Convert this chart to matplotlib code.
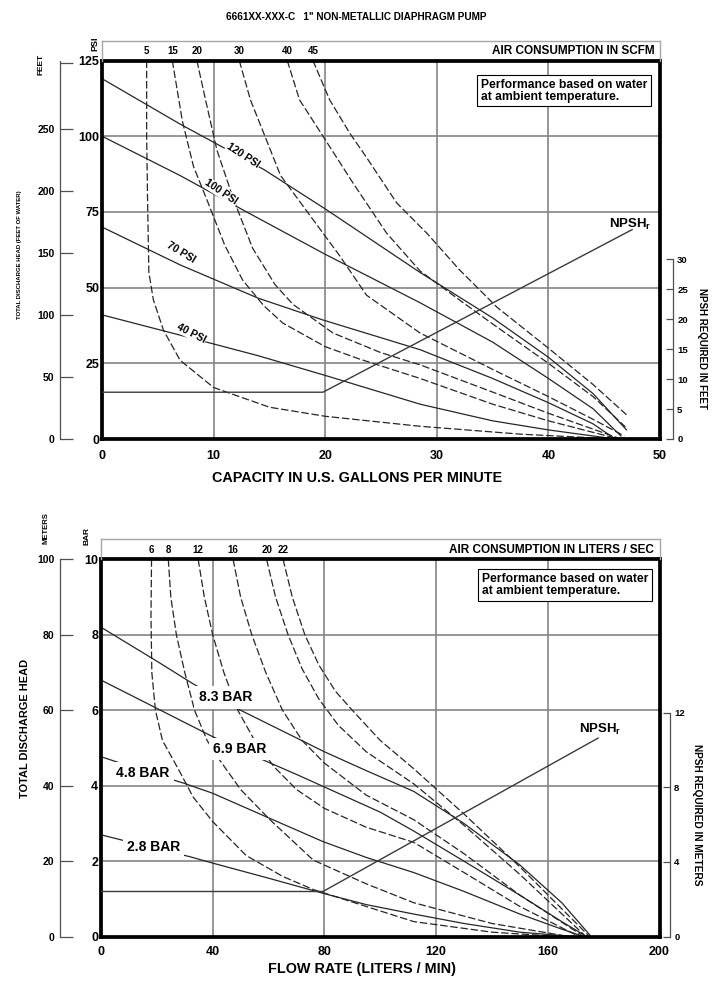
import matplotlib
matplotlib.use("Agg")
import matplotlib.pyplot as plt
from matplotlib import font_manager

_names = {f.name for f in font_manager.fontManager.ttflist}
FONT = "Liberation Sans Narrow" if "Liberation Sans Narrow" in _names else "Liberation Sans"
plt.rcParams["font.family"] = [FONT, "DejaVu Sans"]
plt.rcParams["font.weight"] = "bold"

# ------------------------------------------------------------------ data
TITLE = '6661XX-XXX-C   1" NON-METALLIC DIAPHRAGM PUMP'

# --- top panel (US units)
gpm_ticks = [0, 10, 20, 30, 40, 50]
psi_ticks = [0, 25, 50, 75, 100, 125]
feet_ticks = [0, 50, 100, 150, 200, 250]
npsh_ft_ticks = [0, 5, 10, 15, 20, 25, 30]

p120_gpm = [0, 7, 14.5, 20, 28.5, 35, 40, 44, 47]
p120_psi = [119, 104, 89, 76, 55, 40, 27, 15, 3]
p100_gpm = [0, 7, 12.7, 20, 28.5, 35, 40, 44, 46.5]
p100_psi = [100, 87, 75.5, 61, 45, 32, 20, 10, 1]
p70_gpm = [0, 7, 14, 19.8, 28.5, 35, 40, 44, 46]
p70_psi = [70, 57.5, 46.5, 39.3, 29.5, 20, 12, 5, 0]
p40_gpm = [0, 7, 14, 20, 28.5, 35, 40, 46]
p40_psi = [41, 34.3, 27.5, 21, 11.5, 6, 3, 0]
psi_names = ["120 PSI", "100 PSI", "70 PSI", "40 PSI"]

a5_gpm = [4.0, 4.0, 4.1, 4.2, 4.6, 5.5, 7, 10, 15, 20, 28.5, 37.5, 46]
a5_psi = [125, 100, 75, 55, 46, 36, 26, 17, 10.5, 7.5, 4.2, 1.6, 0]
a15_gpm = [6.3, 7.2, 8.2, 9.4, 11, 12.6, 14.5, 16.2, 20, 23, 28.5, 35, 40, 46.3]
a15_psi = [125, 105, 90, 79, 64, 52.5, 44, 38.3, 30.5, 26.5, 20, 11.5, 6, 0]
a20_gpm = [8.5, 9.4, 10.3, 11.8, 13.5, 15.5, 17.1, 20.7, 25, 28.5, 35, 40, 46.5]
a20_psi = [125, 110, 95.4, 79, 63, 51, 44.5, 35, 28.5, 24.5, 15.5, 8.5, 0]
a30_gpm = [12.3, 13.3, 14.6, 16, 18.3, 21.3, 23.7, 28.5, 35, 40, 44, 46.8]
a30_psi = [125, 112, 100, 87, 75.5, 60.5, 47.5, 35, 23, 14, 6.5, 1]
a40_gpm = [16.6, 17.7, 19.8, 22.5, 25.5, 28.5, 32, 35, 40, 44, 46.9]
a40_psi = [125, 112, 100, 84.5, 68, 55.5, 46, 38, 25, 14, 4]
a45_gpm = [18.9, 20.4, 22.2, 23.7, 26.4, 29.1, 32, 35.4, 40, 44, 47]
a45_psi = [125, 112, 101, 93, 78, 68, 56, 43.5, 30, 18, 8]
scfm_names = ["5", "15", "20", "30", "40", "45"]

npsh_gpm = [0, 19.8, 47.5]
npsh_ft = [7.8, 7.8, 34.9]

# --- bottom panel (metric units)
lpm_ticks = [0, 40, 80, 120, 160, 200]
bar_ticks = [0, 2, 4, 6, 8, 10]
meter_ticks = [0, 20, 40, 60, 80, 100]
npsh_m_ticks = [0, 4, 8, 12]

p83_lpm = [0, 10, 20, 33, 50, 65, 80, 95, 112, 130, 150, 165, 175]
p83_bar = [8.2, 7.75, 7.3, 6.7, 6.0, 5.45, 4.9, 4.4, 3.85, 3.0, 1.9, 0.9, 0.05]
p69_lpm = [0, 20, 40, 56, 70, 85, 100, 112, 130, 150, 165, 174]
p69_bar = [6.8, 6.05, 5.3, 4.75, 4.3, 3.8, 3.3, 2.8, 2.0, 1.1, 0.4, 0.0]
p48_lpm = [0, 15, 30, 40, 60, 79.5, 95, 112, 130, 150, 165, 173]
p48_bar = [4.77, 4.4, 4.06, 3.8, 3.15, 2.52, 2.1, 1.7, 1.2, 0.6, 0.2, 0.0]
p28_lpm = [0, 15, 31.8, 40, 60, 79.5, 95, 112, 130, 150, 170]
p28_bar = [2.7, 2.42, 2.12, 1.95, 1.55, 1.15, 0.85, 0.6, 0.35, 0.12, 0.0]
bar_names = ["8.3 BAR", "6.9 BAR", "4.8 BAR", "2.8 BAR"]

a6_lpm = [18.1, 17.9, 18.2, 19.5, 22, 28, 33, 40, 52, 65, 76, 95, 112, 140, 165]
a6_bar = [10, 8.5, 7, 6, 5.2, 4.4, 3.7, 3.05, 2.15, 1.6, 1.25, 0.8, 0.4, 0.12, 0]
a8_lpm = [24.1, 25, 27, 30, 33.5, 38, 42.5, 50, 60.5, 76, 95, 112, 140, 168]
a8_bar = [10, 9, 8, 7, 6, 5.2, 4.68, 3.9, 3.1, 2.03, 1.4, 0.9, 0.35, 0]
a12_lpm = [34.8, 37, 40, 44, 49, 55, 62, 70, 80, 95, 112, 130, 150, 170]
a12_bar = [10, 9, 8, 7, 6, 5.2, 4.5, 3.9, 3.4, 2.9, 2.5, 1.7, 0.8, 0.05]
a16_lpm = [47.3, 50, 54, 59, 65, 72, 80, 95, 112, 130, 150, 172]
a16_bar = [10, 9, 8, 7, 6, 5.2, 4.6, 3.75, 3.1, 2.2, 1.1, 0.05]
a20l_lpm = [59.3, 62.5, 67, 72, 78, 85, 95, 112, 130, 150, 173]
a20l_bar = [10, 9, 8, 7.1, 6.3, 5.6, 4.9, 4.05, 2.95, 1.65, 0.05]
a22_lpm = [65.2, 68.5, 73, 78, 84, 90, 100, 112, 130, 150, 175]
a22_bar = [10, 9, 8, 7.2, 6.5, 6.0, 5.2, 4.45, 3.25, 1.85, 0.0]
lps_names = ["6", "8", "12", "16", "20", "22"]

npsh_lpm = [0, 79.5, 178]
npsh_m = [2.42, 2.42, 10.63]

# ------------------------------------------------------------------ layout helpers
W, H = 713, 983
fig = plt.figure(figsize=(W / 100, H / 100), dpi=100)
fig.patch.set_facecolor("white")
PT = 72.0 / 100.0  # points per pixel

def rect(l, t, r, b):
    return [l / W, 1 - b / H, (r - l) / W, (b - t) / H]

def ftext(x, y, s, **kw):
    fig.text(x / W, 1 - y / H, s, **kw)

INK = "#262626"
GRID = "#858585"
DASH = (0, (6, 2.2))

def style_main(ax, xt, yt, xpad, ypad):
    ax.set_xticks(xt)
    ax.set_yticks(yt)
    ax.tick_params(axis="x", length=0, labelsize=9, pad=xpad)
    ax.tick_params(axis="y", length=0, labelsize=9, pad=ypad)
    ax.grid(True, color=GRID, lw=1.2)
    ax.set_axisbelow(True)
    for s in ax.spines.values():
        s.set_linewidth(2.7)
        s.set_color("black")
        s.set_zorder(6)

def outer_left(ax, ylim, ticks, labels, outward_px):
    t = ax.twinx()
    t.set_ylim(ylim)
    for k in ["top", "bottom", "right"]:
        t.spines[k].set_visible(False)
    t.spines["left"].set_visible(True)
    t.spines["left"].set_position(("outward", outward_px * PT))
    t.spines["left"].set_linewidth(0.9)
    t.spines["left"].set_color("#505050")
    t.yaxis.set_ticks_position("left")
    t.set_yticks(ticks, labels)
    t.tick_params(axis="y", direction="in", length=9, width=0.9, color="#505050",
                  pad=4, labelsize=7.5)
    return t

def npsh_axis(ax, ylim, ticks, top, outward_px):
    t = ax.twinx()
    t.set_ylim(ylim)
    for k in ["top", "bottom", "left"]:
        t.spines[k].set_visible(False)
    t.spines["right"].set_position(("outward", outward_px * PT))
    t.spines["right"].set_bounds(0, top)
    t.spines["right"].set_linewidth(0.9)
    t.spines["right"].set_color("#505050")
    t.set_yticks(ticks)
    t.tick_params(axis="y", direction="in", length=5, width=0.9, color="#505050",
                  pad=3, labelsize=6.8)
    return t

def strip(ax, names, starts, title):
    pos = ax.get_position()
    s = fig.add_axes([pos.x0, pos.y1, pos.width, 20 / H], sharex=ax)
    s.set_facecolor("none")
    s.tick_params(left=False, bottom=False, labelleft=False, labelbottom=False)
    for k in ["top", "left", "right"]:
        s.spines[k].set_color("#a8a8a8")
        s.spines[k].set_linewidth(1.0)
    s.spines["bottom"].set_visible(False)
    s.set_ylim(0, 1)
    tr = s.get_xaxis_transform()
    for n, x0 in zip(names, starts):
        s.text(x0, 0.45, n, transform=tr, ha="center", va="center", fontsize=7)
    s.text(0.99, 0.45, title, transform=s.transAxes, ha="right", va="center", fontsize=8.5)
    return s

label_box = dict(facecolor="white", edgecolor="none", pad=0.6)
perf_box = dict(boxstyle="square,pad=0.3", facecolor="white", edgecolor="black", lw=0.8)
PERF = "Performance based on water\nat ambient temperature."

# ------------------------------------------------------------------ top panel
ax1 = fig.add_axes(rect(102, 60.5, 660, 439))
ax1.set_xlim(0, 50)
ax1.set_ylim(0, 125)
style_main(ax1, gpm_ticks, psi_ticks, 8, 2)

for xs, ys in [(p120_gpm, p120_psi), (p100_gpm, p100_psi), (p70_gpm, p70_psi), (p40_gpm, p40_psi)]:
    ax1.plot(xs, ys, color=INK, lw=0.9, zorder=3)
air_top = [(a5_gpm, a5_psi), (a15_gpm, a15_psi), (a20_gpm, a20_psi),
           (a30_gpm, a30_psi), (a40_gpm, a40_psi), (a45_gpm, a45_psi)]
for xs, ys in air_top:
    ax1.plot(xs, ys, color=INK, lw=0.9, ls=DASH, zorder=3)

top_label_pos = [(12.66, 93.7, -33), (10.7, 81.5, -34), (7.1, 61.5, -31), (8.0, 34.9, -27)]
for name, (x, y, r) in zip(psi_names, top_label_pos):
    ax1.text(x, y, name, rotation=r, rotation_mode="anchor", ha="center", va="center",
             fontsize=7.5, bbox=label_box, zorder=5)

ax1.text(0.8283, 0.920, PERF, transform=ax1.transAxes, ha="center", va="center",
         multialignment="left", fontsize=8.7, linespacing=1.0, bbox=perf_box, zorder=5)
ax1.text(47.3, 71, r"NPSH$_{\mathregular{r}}$", ha="center", va="center", fontsize=9.5, zorder=5)

outer_left(ax1, (0, 305), feet_ticks + [303], [str(v) for v in feet_ticks] + [""], 42)
r1 = npsh_axis(ax1, (0, 63.1), npsh_ft_ticks, 30, 13)
r1.plot(npsh_gpm, npsh_ft, color="#3a3a3a", lw=1.0, zorder=3)
strip(ax1, scfm_names, [c[0][0] for c in air_top], "AIR CONSUMPTION IN SCFM")

ftext(356, 17, TITLE, ha="center", va="center", fontsize=7.2)
ftext(357, 478, "CAPACITY IN U.S. GALLONS PER MINUTE", ha="center", va="center", fontsize=10.4)
ftext(95, 44, "PSI", rotation=90, ha="center", va="center", fontsize=6.5)
ftext(41, 64, "FEET", rotation=90, ha="center", va="center", fontsize=6)
ftext(20, 255, "TOTAL DISCHARGE HEAD (FEET OF WATER)", rotation=90, ha="center",
      va="center", fontsize=4.3)
ftext(702, 349, "NPSH REQUIRED IN FEET", rotation=270, ha="center", va="center", fontsize=7)

# ------------------------------------------------------------------ bottom panel
ax2 = fig.add_axes(rect(101, 559.3, 659.5, 936.7))
ax2.set_xlim(0, 200)
ax2.set_ylim(0, 10)
style_main(ax2, lpm_ticks, bar_ticks, 7, 2)

for xs, ys in [(p83_lpm, p83_bar), (p69_lpm, p69_bar), (p48_lpm, p48_bar), (p28_lpm, p28_bar)]:
    ax2.plot(xs, ys, color=INK, lw=0.9, zorder=3)
air_bot = [(a6_lpm, a6_bar), (a8_lpm, a8_bar), (a12_lpm, a12_bar),
           (a16_lpm, a16_bar), (a20l_lpm, a20l_bar), (a22_lpm, a22_bar)]
for xs, ys in air_bot:
    ax2.plot(xs, ys, color=INK, lw=0.9, ls=DASH, zorder=3)

bot_label_pos = [(44.5, 6.34), (49.7, 4.97), (15.0, 4.33), (18.8, 2.38)]
bot_box = dict(facecolor="white", edgecolor="none", pad=3.0)
for name, (x, y) in zip(bar_names, bot_label_pos):
    ax2.text(x, y, name, ha="center", va="center", fontsize=10, bbox=bot_box, zorder=5)

ax2.text(0.8308, 0.932, PERF, transform=ax2.transAxes, ha="center", va="center",
         multialignment="left", fontsize=8.7, linespacing=1.0, bbox=perf_box, zorder=5)
ax2.text(178.9, 5.5, r"NPSH$_{\mathregular{r}}$", ha="center", va="center", fontsize=9.5, zorder=5)

outer_left(ax2, (0, 100), meter_ticks, [str(v) for v in meter_ticks], 41)
r2 = npsh_axis(ax2, (0, 20.2), npsh_m_ticks, 12, 10.5)
r2.plot(npsh_lpm, npsh_m, color="#3a3a3a", lw=1.0, zorder=3)
strip(ax2, lps_names, [c[0][0] for c in air_bot], "AIR CONSUMPTION IN LITERS / SEC")

ftext(361.5, 969, "FLOW RATE (LITERS / MIN)", ha="center", va="center", fontsize=10.4)
ftext(87, 536, "BAR", rotation=90, ha="center", va="center", fontsize=6)
ftext(46, 528, "METERS", rotation=90, ha="center", va="center", fontsize=5.5)
ftext(25, 728, "TOTAL DISCHARGE HEAD", rotation=90, ha="center", va="center", fontsize=7.9)
ftext(697, 815, "NPSH REQUIRED IN METERS", rotation=270, ha="center", va="center", fontsize=7.3)

fig.savefig("out.png", dpi=100, facecolor="white")
